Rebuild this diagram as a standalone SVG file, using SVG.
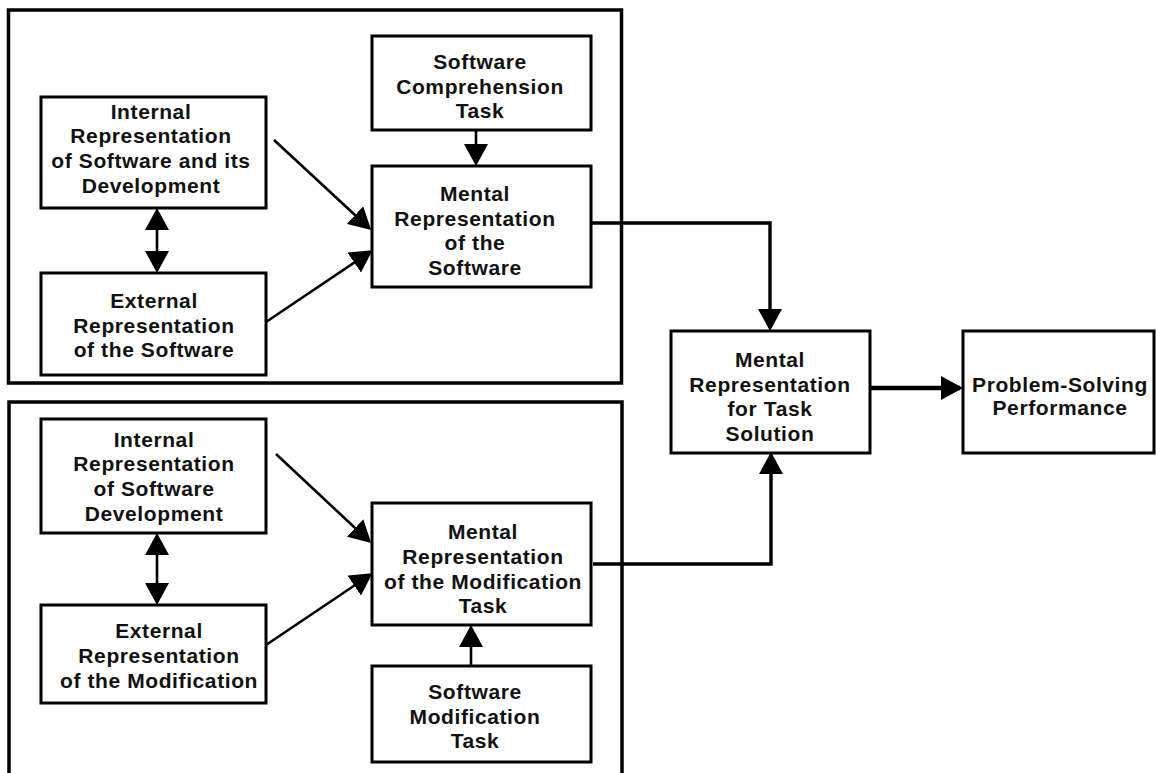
<svg xmlns="http://www.w3.org/2000/svg" width="1156" height="773" viewBox="0 0 1156 773">
  <style>
    .frame { fill: none; stroke: #000; stroke-width: 3.5; }
    .box { fill: #fff; stroke: #000; stroke-width: 3; }
    .lbl { font-family: "Liberation Sans", Arial, sans-serif; font-weight: bold; font-size: 21px; letter-spacing: 0.6px; fill: #111; text-anchor: middle; }
    .conn { fill: none; stroke: #000; stroke-width: 2.6; }
    .conn-thick { fill: none; stroke: #000; stroke-width: 3.4; }
    .conn-heavy { fill: none; stroke: #000; stroke-width: 4.5; }
  </style>
  <defs>
    <marker id="head" markerUnits="userSpaceOnUse" viewBox="0 0 22 24" markerWidth="22" markerHeight="24" refX="19" refY="12" orient="auto-start-reverse">
      <path d="M0,0 L22,12 L0,24 z" fill="#000"/>
    </marker>
  </defs>

  <rect width="1156" height="773" fill="#fff"/>

  <!-- enclosing frames -->
  <g id="frames">
    <rect class="frame" x="8.5" y="10" width="613" height="373"/>
    <rect class="frame" x="9" y="402" width="613" height="390"/>
  </g>

  <!-- connectors -->
  <g id="connectors">
    <line class="conn" x1="274" y1="140" x2="369" y2="228" marker-end="url(#head)"/>
    <line class="conn" x1="266" y1="322" x2="370" y2="252" marker-end="url(#head)"/>
    <line class="conn" x1="157" y1="211" x2="157" y2="270" marker-start="url(#head)" marker-end="url(#head)"/>
    <line class="conn" x1="476" y1="130" x2="476" y2="163" marker-end="url(#head)"/>
    <path class="conn-thick" d="M591,223 H770 V328" marker-end="url(#head)"/>

    <line class="conn" x1="276" y1="454" x2="369" y2="541" marker-end="url(#head)"/>
    <line class="conn" x1="266" y1="645" x2="370" y2="575" marker-end="url(#head)"/>
    <line class="conn" x1="157" y1="536" x2="157" y2="602" marker-start="url(#head)" marker-end="url(#head)"/>
    <line class="conn" x1="471" y1="666" x2="471" y2="628" marker-end="url(#head)"/>
    <path class="conn-thick" d="M593,564 H771 V455" marker-end="url(#head)"/>

    <line class="conn-heavy" x1="870" y1="388" x2="960" y2="388" marker-end="url(#head)"/>
  </g>

  <!-- upper group -->
  <g id="internal-software">
    <rect class="box" x="41" y="97" width="225" height="111"/>
    <text class="lbl"><tspan x="151" y="119">Internal</tspan><tspan x="151" y="143">Representation</tspan><tspan x="151" y="168">of Software and its</tspan><tspan x="151" y="193">Development</tspan></text>
  </g>
  <g id="external-software">
    <rect class="box" x="41" y="273" width="225" height="102"/>
    <text class="lbl"><tspan x="154" y="308">External</tspan><tspan x="154" y="333">Representation</tspan><tspan x="154" y="357">of the Software</tspan></text>
  </g>
  <g id="comprehension-task">
    <rect class="box" x="372" y="36" width="219" height="94"/>
    <text class="lbl"><tspan x="480" y="69">Software</tspan><tspan x="480" y="94">Comprehension</tspan><tspan x="480" y="118">Task</tspan></text>
  </g>
  <g id="mental-software">
    <rect class="box" x="372" y="166" width="219" height="121"/>
    <text class="lbl"><tspan x="475" y="201">Mental</tspan><tspan x="475" y="226">Representation</tspan><tspan x="475" y="250">of the</tspan><tspan x="475" y="275">Software</tspan></text>
  </g>

  <!-- lower group -->
  <g id="internal-development">
    <rect class="box" x="41" y="419" width="225" height="114"/>
    <text class="lbl"><tspan x="154" y="447">Internal</tspan><tspan x="154" y="471">Representation</tspan><tspan x="154" y="496">of Software</tspan><tspan x="154" y="521">Development</tspan></text>
  </g>
  <g id="external-modification">
    <rect class="box" x="41" y="605" width="225" height="98"/>
    <text class="lbl"><tspan x="159" y="638">External</tspan><tspan x="159" y="663">Representation</tspan><tspan x="159" y="688">of the Modification</tspan></text>
  </g>
  <g id="mental-modification">
    <rect class="box" x="372" y="503" width="219" height="122"/>
    <text class="lbl"><tspan x="483" y="539">Mental</tspan><tspan x="483" y="564">Representation</tspan><tspan x="483" y="589">of the Modification</tspan><tspan x="483" y="613">Task</tspan></text>
  </g>
  <g id="modification-task">
    <rect class="box" x="372" y="666" width="219" height="96"/>
    <text class="lbl"><tspan x="475" y="699">Software</tspan><tspan x="475" y="724">Modification</tspan><tspan x="475" y="748">Task</tspan></text>
  </g>

  <!-- outcome -->
  <g id="task-solution">
    <rect class="box" x="671" y="331" width="199" height="122"/>
    <text class="lbl"><tspan x="770" y="367">Mental</tspan><tspan x="770" y="392">Representation</tspan><tspan x="770" y="416">for Task</tspan><tspan x="770" y="441">Solution</tspan></text>
  </g>
  <g id="performance">
    <rect class="box" x="963" y="331" width="191" height="122"/>
    <text class="lbl"><tspan x="1060" y="392">Problem-Solving</tspan><tspan x="1060" y="415">Performance</tspan></text>
  </g>
</svg>
